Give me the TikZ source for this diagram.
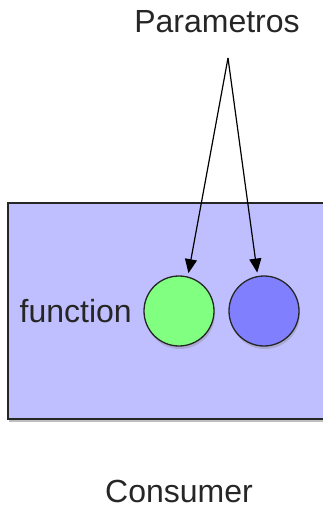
\documentclass[tikz,border=0pt]{standalone}
\usepackage{fontspec}
\setmainfont{Liberation Sans}
\usepackage{xcolor}
\usetikzlibrary{arrows.meta,positioning,shadows}

\definecolor{boxlilac}{RGB}{191,191,255}
\definecolor{argreen}{RGB}{128,255,128}
\definecolor{argblue}{RGB}{128,128,255}

\begin{document}
\begin{tikzpicture}[x=1pt, y=-1pt, every node/.style={font=\fontsize{32}{38}\selectfont, text=black!85},
  arg/.style={circle, draw=black!85, line width=1.3pt, minimum size=70pt, inner sep=0pt, outer sep=4pt,
    drop shadow={shadow xshift=1pt, shadow yshift=-3pt, opacity=0.35}},
  link/.style={-{Triangle[length=14pt,width=12pt]}, line width=1.2pt}]
\useasboundingbox (0,0) rectangle (323,508);
\clip (0,0) rectangle (323,508);
% consumer box, runs past the right edge
\draw[fill=boxlilac, draw=black!85, line width=1.6pt,
  drop shadow={shadow xshift=1pt, shadow yshift=-3pt, opacity=0.5}] (8,203) rectangle (340,419);
\node[arg, fill=argreen] (argA) at (179,311) {};
\node[arg, fill=argblue] (argB) at (264,311) {};
\node[left=8pt of argA, inner sep=0pt] (fname) {function};
\node (params) at (217,22) {Parametros};
\coordinate (fork) at (228,58);
\draw[link] (fork) -- (argA.76);
\draw[link] (fork) -- (argB.100);
\node (consumer) at (179,491) {Consumer};
\end{tikzpicture}
\end{document}
